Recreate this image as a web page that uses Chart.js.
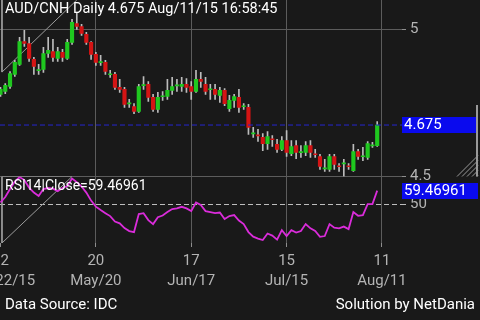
<!DOCTYPE html>
<html lang="en">
<head>
<meta charset="UTF-8">
<title>AUD/CNH Daily</title>
<script src="https://cdn.jsdelivr.net/npm/chart.js"></script>
<style>
  html, body { margin: 0; padding: 0; background: #191919; }
  #chart { display: block; }
</style>
</head>
<body>
<canvas id="chart" width="480" height="320"></canvas>
<script>
// daily candles, Apr/22/15 .. Aug/11/15
const opens = [
  4.779, 4.789, 4.806, 4.847, 4.881, 4.959, 4.952, 4.898, 4.860, 4.864,
  4.918, 4.925, 4.901, 4.922, 4.901, 4.956, 5.020, 5.010, 4.983, 4.956,
  4.915, 4.887, 4.888, 4.846, 4.847, 4.803, 4.796, 4.747, 4.738, 4.721,
  4.809, 4.813, 4.769, 4.728, 4.771, 4.772, 4.793, 4.808, 4.806, 4.813,
  4.806, 4.789, 4.830, 4.813, 4.795, 4.796, 4.776, 4.793, 4.731, 4.759,
  4.769, 4.737, 4.735, 4.645, 4.640, 4.633, 4.612, 4.627, 4.609, 4.592,
  4.622, 4.578, 4.605, 4.581, 4.582, 4.605, 4.576, 4.568, 4.526, 4.524,
  4.568, 4.535, 4.543, 4.535, 4.520, 4.585, 4.567, 4.565, 4.604, 4.605
];
const highs = [
  4.803, 4.816, 4.857, 4.895, 4.973, 4.997, 4.973, 4.905, 4.881, 4.939,
  4.973, 4.966, 4.939, 4.932, 4.966, 5.034, 5.058, 5.017, 4.990, 4.959,
  4.922, 4.912, 4.895, 4.861, 4.854, 4.830, 4.803, 4.762, 4.748, 4.813,
  4.840, 4.823, 4.779, 4.786, 4.789, 4.830, 4.837, 4.830, 4.837, 4.833,
  4.823, 4.861, 4.854, 4.837, 4.813, 4.813, 4.803, 4.799, 4.776, 4.779,
  4.796, 4.748, 4.745, 4.667, 4.660, 4.646, 4.653, 4.639, 4.626, 4.636,
  4.656, 4.622, 4.622, 4.605, 4.619, 4.622, 4.592, 4.575, 4.558, 4.575,
  4.575, 4.544, 4.558, 4.544, 4.609, 4.592, 4.599, 4.619, 4.616, 4.687
];
const lows = [
  4.772, 4.782, 4.799, 4.840, 4.878, 4.942, 4.891, 4.847, 4.847, 4.854,
  4.905, 4.891, 4.891, 4.891, 4.898, 4.949, 5.000, 4.980, 4.949, 4.898,
  4.878, 4.878, 4.847, 4.837, 4.796, 4.786, 4.735, 4.735, 4.714, 4.718,
  4.796, 4.755, 4.721, 4.718, 4.759, 4.762, 4.779, 4.789, 4.789, 4.786,
  4.762, 4.786, 4.803, 4.779, 4.762, 4.762, 4.752, 4.741, 4.721, 4.735,
  4.718, 4.728, 4.643, 4.633, 4.619, 4.588, 4.592, 4.602, 4.582, 4.588,
  4.568, 4.571, 4.561, 4.565, 4.571, 4.565, 4.565, 4.524, 4.517, 4.517,
  4.524, 4.517, 4.500, 4.524, 4.517, 4.558, 4.554, 4.558, 4.599, 4.602
];
const closes = [
  4.796, 4.810, 4.850, 4.888, 4.959, 4.952, 4.901, 4.874, 4.862, 4.918,
  4.929, 4.905, 4.925, 4.905, 4.956, 5.024, 5.010, 4.986, 4.956, 4.915,
  4.888, 4.889, 4.857, 4.848, 4.803, 4.796, 4.745, 4.749, 4.721, 4.806,
  4.811, 4.769, 4.728, 4.769, 4.773, 4.793, 4.806, 4.810, 4.813, 4.803,
  4.789, 4.830, 4.823, 4.789, 4.797, 4.779, 4.793, 4.748, 4.759, 4.772,
  4.735, 4.739, 4.667, 4.647, 4.638, 4.612, 4.636, 4.625, 4.592, 4.622,
  4.582, 4.602, 4.582, 4.583, 4.605, 4.582, 4.574, 4.534, 4.528, 4.568,
  4.541, 4.533, 4.545, 4.533, 4.585, 4.568, 4.569, 4.612, 4.606, 4.675
];
// RSI(14) on close
const rsi = [
  51.4, 55.1, 60.5, 65.6, 68.6, 66.6, 61.5, 58.1, 55.8, 60.5,
  61.2, 60.8, 59.1, 61.2, 62.5, 67.6, 65.2, 62.2, 58.1, 52.7,
  48.6, 46.3, 44.2, 42.2, 38.5, 37.3, 34.1, 32.1, 31.4, 43.6,
  44.2, 39.5, 36.8, 41.5, 42.6, 44.9, 47.0, 47.4, 48.5, 47.4,
  45.6, 51.4, 49.7, 45.6, 44.9, 44.2, 44.6, 40.2, 42.2, 42.9,
  39.2, 36.8, 31.4, 28.3, 27.0, 26.0, 30.4, 29.0, 26.3, 32.7,
  28.7, 32.7, 31.1, 32.1, 36.8, 33.9, 32.1, 28.2, 28.7, 36.8,
  34.4, 33.9, 35.1, 33.4, 44.9, 42.4, 42.9, 50.3, 50.3, 59.46961
];

// x axis ticks
const tickIdx = [0, 20, 40, 60, 80];
const tickDay = ['22', '20', '17', '15', '11'];
const tickDate = ['Apr/22/15', 'May/20', 'Jun/17', 'Jul/15', 'Aug/11'];
const priceTicks = [4.5, 5];
const rsiTicks = [50];

// drawn objects on the chart (triangles at the left edge)
const shapeMain = [{x: 0.31, y: 5.1}, {x: 0.31, y: 4.855}, {x: 16.0, y: 5.1}];
const shapeRsi = [{x: 15.0, y: 69}, {x: 0.31, y: 69}, {x: 0.31, y: 24}, {x: 15.0, y: 69}];

const GREEN = '#1fc81f';
const RED = '#d41414';
const BG = '#191919';

const bodies = closes.map((c, i) => ({x: i, y: [opens[i], c]}));
const wicks = closes.map((c, i) => ({x: i, y: [lows[i], highs[i]]}));
const lastClose = closes[closes.length - 1];
const lastRsi = rsi[rsi.length - 1];
const lastLine = [{x: -0.105, y: lastClose}, {x: 84.2, y: lastClose}];
const rsiPts = rsi.map((v, i) => ({x: i, y: v}));

Chart.defaults.font.family = 'Roboto';

const overlay = {
    id: 'overlay',
    beforeDraw(chart) {
        const c = chart.ctx;
        c.save();
        c.fillStyle = BG;
        c.fillRect(0, 0, chart.width, chart.height);
        c.restore();
    },
    afterDraw(chart) {
        const c = chart.ctx;
        const y = chart.scales.y;
        const r = chart.scales.yRsi;
        const w = chart.width;
        c.save();
        c.textBaseline = 'middle';

        // title + indicator caption
        c.fillStyle = '#ffffff';
        c.font = '14.5px Roboto';
        c.fillText('AUD/CNH Daily ' + lastClose.toFixed(3) + ' Aug/11/15 16:58:45', 5, 9);
        c.font = '14px Roboto';
        c.fillText('RSI14|Close=' + lastRsi, 5, 186);

        // last value boxes
        const boxes = [[y.getPixelForValue(lastClose), lastClose.toFixed(3)],
                       [r.getPixelForValue(lastRsi), String(lastRsi)]];
        boxes.forEach(([py, txt]) => {
            c.fillStyle = '#0a0aee';
            c.fillRect(chart.chartArea.right, Math.round(py) - 8, 76, 16);
            c.fillStyle = '#ffffff';
            c.font = '15px Roboto';
            c.fillText(txt, chart.chartArea.right + 2, py + 0.5);
        });

        // scroll marker at the right edge
        c.strokeStyle = '#9a9a9a';
        c.lineWidth = 2;
        c.beginPath();
        c.moveTo(w - 3, 105);
        c.lineTo(w - 3, y.bottom);
        c.stroke();
        c.lineWidth = 1;
        c.beginPath();
        for (let k = 0; k < 5; k++) {
            const x0 = w - 23 + k * 5;
            c.moveTo(x0, y.bottom);
            c.lineTo(w - 2, y.bottom - (w - 2 - x0));
        }
        c.stroke();

        // footer
        c.fillStyle = '#ffffff';
        c.font = '15px Roboto';
        c.fillText('Data Source: IDC', 5, 305);
        c.textAlign = 'right';
        c.fillText('Solution by NetDania', w - 5, 305);
        c.restore();
    }
};

const ctx = document.getElementById('chart').getContext('2d');
new Chart(ctx, {
    type: 'bar',
    data: {
        datasets: [
            {
                data: wicks,
                backgroundColor: '#bcbcbc',
                barThickness: 1,
                grouped: false,
                yAxisID: 'y',
                order: 3
            },
            {
                data: bodies,
                backgroundColor: closes.map((c, i) => c >= opens[i] ? GREEN : RED),
                barThickness: 3.5,
                minBarLength: 1,
                grouped: false,
                yAxisID: 'y',
                order: 2
            },
            {
                type: 'line',
                data: lastLine,
                borderColor: '#2626d0',
                borderWidth: 1,
                borderDash: [5, 3],
                pointRadius: 0,
                yAxisID: 'y',
                order: 1
            },
            {
                type: 'line',
                data: rsiPts,
                borderColor: '#da2cda',
                borderWidth: 1.8,
                pointRadius: 0,
                yAxisID: 'yRsi',
                order: 1
            },
            {
                type: 'line',
                data: shapeMain,
                borderColor: '#9c9c9c',
                borderWidth: 1,
                pointRadius: 0,
                yAxisID: 'y',
                order: 4
            },
            {
                type: 'line',
                data: shapeRsi,
                borderColor: '#9c9c9c',
                borderWidth: 1,
                pointRadius: 0,
                yAxisID: 'yRsi',
                order: 4
            }
        ]
    },
    options: {
        responsive: false,
        devicePixelRatio: 1,
        animation: false,
        events: [],
        layout: { padding: 0 },
        plugins: {
            legend: { display: false },
            tooltip: { enabled: false }
        },
        scales: {
            x: {
                type: 'linear',
                min: -0.105,
                max: 84.2,
                offset: false,
                border: { display: false },
                grid: {
                    offset: false,
                    color: c => c.tick && c.tick.value === 0 ? 'rgba(0,0,0,0)' : '#5c5c5c',
                    tickColor: '#8e8e8e',
                    tickLength: 4
                },
                ticks: {
                    color: '#b4b4b4',
                    font: { size: 15, lineHeight: 1.33 },
                    padding: 4,
                    maxRotation: 0,
                    minRotation: 0,
                    autoSkip: false,
                    callback: v => {
                        const k = tickIdx.indexOf(v);
                        return k < 0 ? '' : [tickDay[k], tickDate[k]];
                    }
                },
                afterBuildTicks: s => { s.ticks = tickIdx.map(v => ({value: v})); },
                afterFit: s => { s.height = 77; s.paddingLeft = 0; s.paddingRight = 0; }
            },
            y: {
                axis: 'y',
                position: 'right',
                stack: 'panels',
                stackWeight: 176.5,
                min: 4.5,
                max: 5.1,
                border: { display: false },
                grid: { color: '#5c5c5c', tickColor: '#8e8e8e', tickLength: 4 },
                ticks: { color: '#b4b4b4', font: { size: 15 }, padding: 4, callback: v => String(v) },
                afterBuildTicks: s => { s.ticks = priceTicks.map(v => ({value: v})); },
                afterFit: s => { s.width = 78; s.paddingTop = 0; s.paddingBottom = 0; }
            },
            yRsi: {
                axis: 'y',
                type: 'linear',
                position: 'right',
                stack: 'panels',
                stackWeight: 66.5,
                min: 24,
                max: 69,
                border: { display: false, dash: [5, 3] },
                grid: { color: '#bdbdbd', tickColor: '#bdbdbd', tickLength: 4 },
                ticks: { color: '#b4b4b4', font: { size: 15 }, padding: 4, callback: v => String(v) },
                afterBuildTicks: s => { s.ticks = rsiTicks.map(v => ({value: v})); },
                afterFit: s => { s.width = 78; s.paddingTop = 0; s.paddingBottom = 0; }
            }
        }
    },
    plugins: [overlay]
});
</script>
</body>
</html>
